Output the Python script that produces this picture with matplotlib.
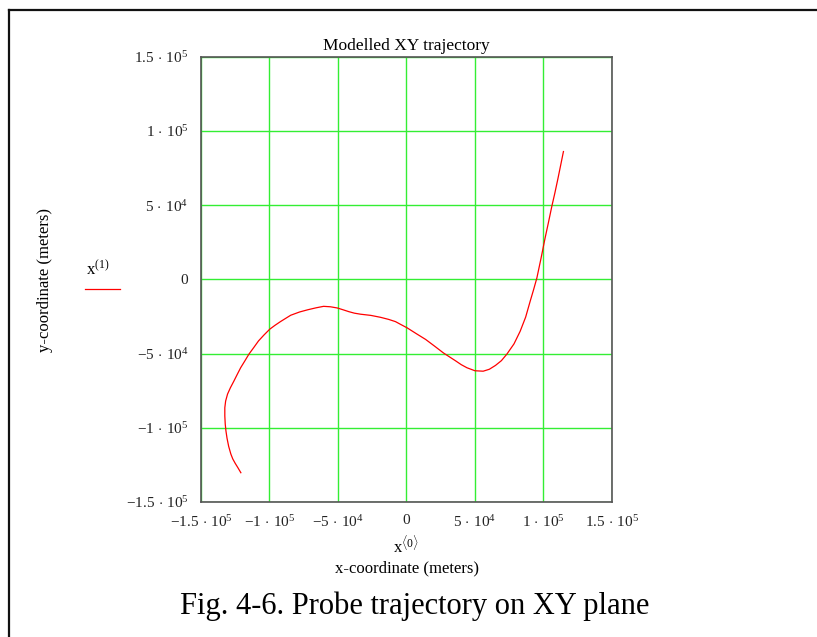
import numpy as np
import matplotlib
matplotlib.use("Agg")
import matplotlib.pyplot as plt
from matplotlib.lines import Line2D

plt.rcParams['font.family'] = ['Liberation Serif', 'DejaVu Serif']
plt.rcParams['mathtext.fontset'] = 'custom'
plt.rcParams['mathtext.rm'] = 'Liberation Serif'
plt.rcParams['mathtext.it'] = 'Liberation Serif'

# modelled probe track, thousands of metres
traj_x = np.array([-120.9, -123.0, -125.0, -126.8, -128.2, -129.8, -131.0, -131.8,
                   -132.3, -132.6, -132.6, -132.0, -130.6, -128.5, -126.0, -123.5,
                   -121.0, -118.0, -115.0, -111.5, -108.0, -104.0, -99.8, -96.0,
                   -92.0, -88.0, -84.5, -78.0, -72.0, -66.0, -60.5, -55.5, -50.5,
                   -46.0, -42.0, -38.0, -33.5, -26.0, -18.9, -13.0, -8.0, -4.0,
                   0.5, 7.0, 14.0, 20.5, 27.0, 32.0, 36.0, 40.0, 44.2, 50.0, 56.0,
                   60.5, 65.0, 69.3, 73.3, 78.5, 83.0, 87.0, 90.3, 92.8, 95.2, 98.2,
                   101.2, 103.7, 106.1, 108.3, 110.5, 112.6, 114.6])
traj_y = np.array([-130.3, -127.0, -124.0, -121.0, -117.7, -112.5, -107.0, -102.0,
                   -97.5, -92.0, -86.5, -82.0, -77.3, -73.0, -68.6, -64.0,
                   -59.5, -55.0, -50.4, -46.0, -41.5, -37.5, -33.6, -31.0,
                   -28.5, -26.2, -24.2, -22.0, -20.5, -19.2, -18.2, -18.5, -19.3,
                   -20.6, -21.8, -22.8, -23.5, -24.3, -25.6, -27.0, -28.5, -30.5,
                   -32.7, -36.5, -40.5, -45.0, -49.6, -52.6, -55.0, -57.5, -59.6,
                   -61.6, -61.9, -60.6, -58.0, -54.8, -50.4, -43.5, -35.0, -25.5,
                   -14.8, -7.0, 0.9, 14.0, 27.8, 38.5, 49.1, 58.0, 67.5, 77.0, 86.1])

ticks = [-1.5e5, -1e5, -5e4, 0, 5e4, 1e5, 1.5e5]
tick_labels = [r'$-1.5\,\cdot\,10^{5}$', r'$-1\,\cdot\,10^{5}$', r'$-5\,\cdot\,10^{4}$', '0',
               r'$5\,\cdot\,10^{4}$', r'$1\,\cdot\,10^{5}$', r'$1.5\,\cdot\,10^{5}$']

fig = plt.figure(figsize=(8.17, 6.37), dpi=100)
ax = fig.add_axes([0.246, 0.212, 0.503, 0.699])

ax.plot(traj_x * 1e3, traj_y * 1e3, color='#ff0000', lw=0.9)

ax.set_xlim(-1.5e5, 1.5e5)
ax.set_ylim(-1.5e5, 1.5e5)
ax.set_xticks(ticks)
ax.set_yticks(ticks)
ax.set_xticklabels(tick_labels, fontsize=11)
ax.set_yticklabels(tick_labels, fontsize=11)
ax.tick_params(length=0, pad=9, colors='#222222')
ax.grid(True, color='#33ee33', lw=1.0)
ax.set_axisbelow(True)
for s in ax.spines.values():
    s.set_color('#555555')
    s.set_linewidth(1.2)

ax.set_title('Modelled XY trajectory', fontsize=12.5, pad=5)

# axis captions in Mathcad style
fig.text(0.497, 0.143, r'$\mathrm{x}^{\langle 0\rangle}$', fontsize=12, ha='center', va='center')
fig.text(0.498, 0.107, 'x-coordinate (meters)', fontsize=12, ha='center', va='center')
fig.text(0.055, 0.56, 'y-coordinate (meters)', fontsize=12, rotation=90,
         ha='center', va='center')
fig.text(0.12, 0.578, r'$\mathrm{x}^{(1)}$', fontsize=12, ha='center', va='center')
fig.add_artist(Line2D([0.104, 0.147], [0.546, 0.546], color='#ff0000', lw=0.9))

fig.text(0.508, 0.048, 'Fig. 4-6. Probe trajectory on XY plane', fontsize=22,
         ha='center', va='center')

# page frame
fig.add_artist(Line2D([0.011, 0.011], [0.0, 0.984], color='#111111', lw=1.6))
fig.add_artist(Line2D([0.011, 1.0], [0.984, 0.984], color='#111111', lw=1.6))

fig.savefig('out.png', dpi=100)
